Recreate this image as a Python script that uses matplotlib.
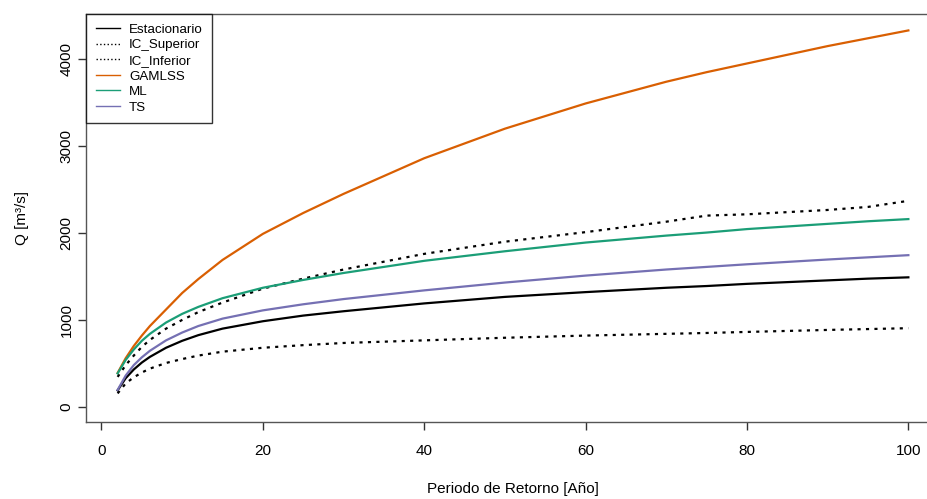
import matplotlib
matplotlib.use("Agg")
import matplotlib.pyplot as plt
from matplotlib.lines import Line2D

plt.rcParams['font.family'] = ['Liberation Sans', 'DejaVu Sans']

# periodo de retorno [años]
T = [2, 3, 4, 5, 6, 8, 10, 12, 15, 20, 25, 30, 40, 50, 60, 70, 75, 80, 90, 95, 100]

estacionario = [190, 330, 430, 510, 575, 680, 760, 825, 900, 985, 1050, 1100, 1190, 1265, 1320, 1370, 1390, 1415, 1455, 1475, 1490]
ic_superior = [345, 480, 590, 690, 770, 900, 1000, 1090, 1200, 1360, 1475, 1580, 1760, 1900, 2010, 2130, 2200, 2215, 2265, 2300, 2370]
ic_inferior = [155, 270, 340, 395, 440, 505, 550, 590, 635, 680, 710, 735, 765, 795, 820, 840, 850, 862, 885, 895, 905]
gamlss = [390, 560, 700, 820, 930, 1120, 1310, 1470, 1690, 1990, 2230, 2450, 2860, 3200, 3490, 3740, 3850, 3950, 4150, 4240, 4330]
ml = [385, 540, 660, 760, 840, 970, 1070, 1150, 1250, 1370, 1460, 1540, 1680, 1790, 1890, 1970, 2005, 2045, 2105, 2135, 2160]
ts = [195, 360, 480, 570, 645, 765, 855, 930, 1015, 1110, 1180, 1240, 1340, 1430, 1510, 1580, 1610, 1640, 1695, 1720, 1745]

labels = ['Estacionario', 'IC_Superior', 'IC_Inferior', 'GAMLSS', 'ML', 'TS']
colors = ['black', 'black', 'black', '#D95F02', '#1B9E77', '#7570B3']

fig = plt.figure(figsize=(9.28, 4.99), dpi=100)
# the right edge of the plot box falls outside the picture, as in the original
ax = fig.add_axes([86/928, 77/499, 854/928, 408/499])

lw = 1.6
dots = (1.4, 2.4)
ax.plot(T, estacionario, color='black', lw=lw)
ax.plot(T, ic_superior, color='black', lw=lw, dashes=dots)
ax.plot(T, ic_inferior, color='black', lw=lw, dashes=dots)
ax.plot(T, gamlss, color=colors[3], lw=lw)
ax.plot(T, ml, color=colors[4], lw=lw)
ax.plot(T, ts, color=colors[5], lw=lw)

ax.set_xlim(-1.92, 103.92)
ax.set_ylim(-174, 4519)
ax.set_xticks([0, 20, 40, 60, 80, 100])
ax.set_yticks([0, 1000, 2000, 3000, 4000])
ax.set_yticklabels(['0', '1000', '2000', '3000', '4000'], rotation=90, va='center')

for s in ax.spines.values():
    s.set_color('#555555')
    s.set_linewidth(1.0)
ax.tick_params(direction='out', length=6, width=1, colors='#333333',
               labelsize=11, labelcolor='black')
ax.tick_params(axis='x', pad=10)
ax.tick_params(axis='y', pad=3)

ax.set_xlabel('Periodo de Retorno [Año]', fontsize=11, labelpad=17)
ax.set_ylabel('Q [m³/s]', fontsize=11, labelpad=22)

handles = []
for i, lab in enumerate(labels):
    ls = ':' if lab.startswith('IC') else '-'
    handles.append(Line2D([0], [0], color=colors[i], lw=1, ls=ls))
leg = ax.legend(handles, labels, loc='upper left', bbox_to_anchor=(0, 1),
                fontsize=9.6, frameon=True, fancybox=False, borderaxespad=0,
                handlelength=1.8, handletextpad=0.7, labelspacing=0.24,
                borderpad=0.72)
leg.get_frame().set_edgecolor('black')
leg.get_frame().set_linewidth(1.0)

fig.savefig('out.png', dpi=100)
